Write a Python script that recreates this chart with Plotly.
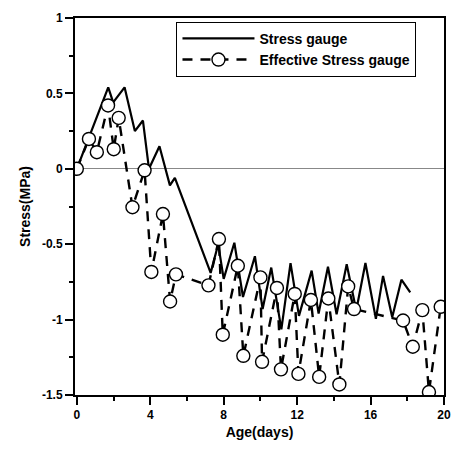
import plotly.graph_objects as go

# Stress gauge (solid line)
stress_age = [0, 1.71, 1.98, 2.6, 3.16, 3.6, 3.93, 4.5, 5.07, 5.34, 7.29, 7.7, 8.0, 8.58,
              9.05, 9.7, 10.12, 10.59, 11.14, 11.64, 12.1, 12.79, 13.17, 13.68, 14.15,
              14.7, 15.22, 15.72, 16.29, 16.68, 17.18, 17.68, 18.16]
stress_val = [0, 0.54, 0.44, 0.54, 0.25, 0.32, 0.0, 0.15, -0.11, -0.06, -0.69, -0.5, -0.73,
              -0.49, -0.85, -0.58, -0.93, -0.655, -1.065, -0.625, -0.975, -0.675, -0.96,
              -0.65, -0.965, -0.633, -0.94, -0.625, -0.995, -0.71, -0.985, -0.735, -0.82]

# Effective stress gauge (dashed line with circles)
eff_age = [0, 0.66, 1.09, 1.7, 2.01, 2.28, 3.03, 3.69, 4.06, 4.69, 5.08, 5.40, 7.17, 7.74,
           7.95, 8.77, 9.07, 10.0, 10.09, 10.9, 11.12, 11.87, 12.07, 12.75, 13.2, 13.7,
           14.3, 14.78, 15.1, 17.77, 18.3, 18.82, 19.18, 19.82]
eff_val = [0, 0.198, 0.11, 0.42, 0.13, 0.338, -0.255, -0.01, -0.684, -0.30, -0.88, -0.70,
           -0.773, -0.466, -1.10, -0.643, -1.24, -0.72, -1.28, -0.79, -1.33, -0.83, -1.36,
           -0.87, -1.38, -0.86, -1.43, -0.78, -0.93, -1.006, -1.18, -0.937, -1.48, -0.915]

x_ticks = [0, 4, 8, 12, 16, 20]
y_ticks = [1, 0.5, 0, -0.5, -1, -1.5]
y_tick_labels = ["1", "0.5", "0", "-0.5", "-1", "-1.5"]

font = "Liberation Sans, Arial, sans-serif"

fig = go.Figure()
fig.add_trace(go.Scatter(
    x=stress_age, y=stress_val, mode="lines", name="<b>Stress gauge</b>",
    line=dict(color="black", width=2.2),
))
fig.add_trace(go.Scatter(
    x=eff_age, y=eff_val, mode="lines+markers", name="<b>Effective Stress gauge</b>",
    line=dict(color="black", width=2.4, dash="10px,8px"),
    marker=dict(symbol="circle", size=13, color="white",
                line=dict(color="black", width=1.4)),
))

fig.update_layout(
    width=462, height=449,
    margin=dict(l=75, r=11, t=12, b=54),
    paper_bgcolor="white", plot_bgcolor="white",
    font=dict(family=font, size=12, color="black"),
    legend=dict(
        x=0.275, y=0.99, xanchor="left", yanchor="top",
        bordercolor="black", borderwidth=1, bgcolor="white",
        font=dict(family=font, size=14, color="black"),
        itemwidth=72, tracegroupgap=0,
    ),
    xaxis=dict(
        range=[-0.1, 20], tickvals=x_ticks, ticktext=["<b>%d</b>" % v for v in x_ticks],
        ticks="outside", ticklen=8, tickwidth=2, tickcolor="black",
        minor=dict(dtick=2, ticks="outside", ticklen=4, tickwidth=2, tickcolor="black"),
        showline=True, linecolor="black", linewidth=2, mirror=True,
        showgrid=False, zeroline=False,
        tickfont=dict(family=font, size=12, color="black"),
        title=dict(text="<b>Age(days)</b>", standoff=6,
                   font=dict(family=font, size=14, color="black")),
    ),
    yaxis=dict(
        range=[-1.5, 1], tickvals=y_ticks, ticktext=["<b>%s</b>" % t for t in y_tick_labels],
        ticks="outside", ticklen=8, tickwidth=2, tickcolor="black",
        minor=dict(dtick=0.25, ticks="outside", ticklen=4, tickwidth=2, tickcolor="black"),
        showline=True, linecolor="black", linewidth=2, mirror=True,
        showgrid=False, zeroline=True, zerolinecolor="#888888", zerolinewidth=1,
        tickfont=dict(family=font, size=12, color="black"),
        title=dict(text="<b>Stress(MPa)</b>", standoff=8,
                   font=dict(family=font, size=14, color="black")),
    ),
)

fig.write_html("out.html", config={"displayModeBar": False},
               post_script="document.body.style.margin='0';")
